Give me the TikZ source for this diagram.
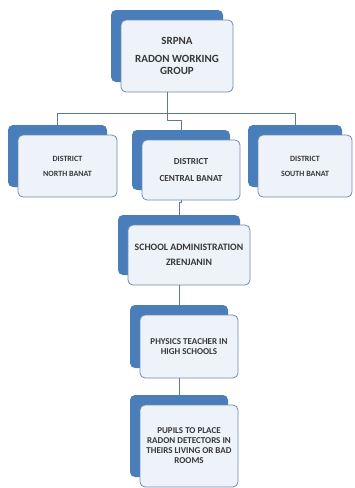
\documentclass[tikz,border=0pt]{standalone}
\usepackage{fontspec}
\setmainfont{Carlito}
\usetikzlibrary{shadows}
\definecolor{backblue}{RGB}{74,126,187}
\definecolor{edgeblue}{RGB}{112,140,175}
\definecolor{frontfill}{RGB}{238,242,249}
\definecolor{linkblue}{RGB}{95,120,150}
\definecolor{textgray}{RGB}{56,56,56}

\begin{document}
\begin{tikzpicture}[x=1pt,y=-1pt,line cap=round,line join=round,
  orgbox/.style={draw=edgeblue,line width=0.8pt,fill=frontfill,rounded corners=5pt,
    general shadow={fill=backblue,shadow xshift=-10pt,shadow yshift=10pt},
    align=center,text=textgray,inner sep=2pt},
  link/.style={draw=linkblue,line width=0.9pt}]
 		\useasboundingbox (0,0) rectangle (354,488);
 		\node[orgbox,minimum width=112pt,minimum height=72pt,font=\bfseries\fontsize{11}{12.5}\selectfont] (rwg) at (177,56) {SRPNA\\[5pt]RADON WORKING\\GROUP};
 		\node[orgbox,minimum width=99pt,minimum height=62pt,font=\bfseries\fontsize{8}{9}\selectfont] (nbanat) at (67.5,166) {DISTRICT\\[6pt]NORTH BANAT};
 		\node[orgbox,minimum width=98pt,minimum height=60pt,font=\bfseries\fontsize{9.2}{10}\selectfont] (cbanat) at (191,170) {DISTRICT\\[7pt]CENTRAL BANAT};
 		\node[orgbox,minimum width=94pt,minimum height=62pt,font=\bfseries\fontsize{8}{9}\selectfont] (sbanat) at (305,166) {DISTRICT\\[6pt]SOUTH BANAT};
 		\node[orgbox,minimum width=122pt,minimum height=60pt,font=\bfseries\fontsize{9.8}{10.5}\selectfont] (school) at (189,255) {SCHOOL ADMINISTRATION\\[4pt]ZRENJANIN};
 		\node[orgbox,minimum width=98pt,minimum height=63pt,font=\bfseries\fontsize{9}{10}\selectfont] (teacher) at (189,346.5) {PHYSICS TEACHER IN\\HIGH SCHOOLS};
 		\node[orgbox,minimum width=98pt,minimum height=82pt,font=\bfseries\fontsize{9}{10}\selectfont] (pupils) at (189,446) {PUPILS TO PLACE\\RADON DETECTORS IN\\THEIRS LIVING OR BAD\\ROOMS};
 		\draw[link] ([xshift=-10pt]rwg.south) -- ++(0,28) -| ([xshift=-10pt,yshift=10pt]cbanat.north);
 		\draw[link] ([xshift=-10pt,yshift=10pt]nbanat.north) -- ++(0,-11) -| ([xshift=-10pt,yshift=10pt]sbanat.north);
 		\draw[link] ([xshift=-10pt]cbanat.south) -- ++(0,2) -| ([xshift=-10pt,yshift=10pt]school.north);
 		\draw[link] ([xshift=-10pt]school.south) -- ([xshift=-10pt,yshift=10pt]teacher.north);
 		\draw[link] ([xshift=-10pt]teacher.south) -- ([xshift=-10pt,yshift=10pt]pupils.north);
 	\end{tikzpicture}
\end{document}
